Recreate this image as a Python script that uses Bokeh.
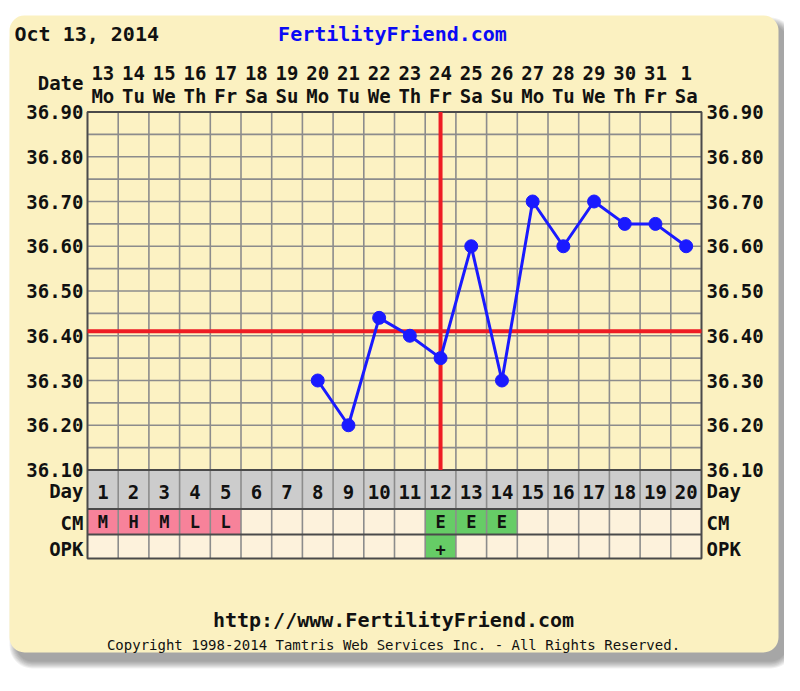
from bokeh.plotting import figure
from bokeh.models import Range1d, BoxAnnotation
from bokeh.core.properties import value
from bokeh.embed import file_html
from bokeh.resources import INLINE

# ---------------- data ----------------
title_date = "Oct 13, 2014"
site = "FertilityFriend.com"
url = "http://www.FertilityFriend.com"
copyright_text = "Copyright 1998-2014 Tamtris Web Services Inc. - All Rights Reserved."

dates = ["13", "14", "15", "16", "17", "18", "19", "20", "21", "22",
         "23", "24", "25", "26", "27", "28", "29", "30", "31", "1"]
weekdays = ["Mo", "Tu", "We", "Th", "Fr", "Sa", "Su", "Mo", "Tu", "We",
            "Th", "Fr", "Sa", "Su", "Mo", "Tu", "We", "Th", "Fr", "Sa"]
cycle_days = ["1", "2", "3", "4", "5", "6", "7", "8", "9", "10",
              "11", "12", "13", "14", "15", "16", "17", "18", "19", "20"]
temp_days = [8, 9, 10, 11, 12, 13, 14, 15, 16, 17, 18, 19, 20]
temps = [36.30, 36.20, 36.44, 36.40, 36.35, 36.60, 36.30, 36.70, 36.60, 36.70, 36.65, 36.65, 36.60]
cm = ["M", "H", "M", "L", "L", "", "", "", "", "", "", "E", "E", "E", "", "", "", "", "", ""]
opk = ["", "", "", "", "", "", "", "", "", "", "", "+", "", "", "", "", "", "", "", ""]
y_ticks = [36.10, 36.20, 36.30, 36.40, 36.50, 36.60, 36.70, 36.80, 36.90]
coverline = 36.41
ovulation_day = 12

# ---------------- layout (image pixels -> data) ----------------
GRID_LEFT_PX = 87.0
COL_PX = 30.7
TOP_PX = 111.5
PX_PER_DEG = 447.5


def X(px):
    return 0.5 + (px - GRID_LEFT_PX) / COL_PX


def Y(py):
    return y_ticks[-1] - (py - TOP_PX) / PX_PER_DEG


n = len(dates)
cols = [i + 1 for i in range(n)]
edges = [i + 0.5 for i in range(n + 1)]

p = figure(width=784, height=675,
           x_range=Range1d(X(0), X(784)), y_range=Range1d(Y(675), Y(0)),
           output_backend="svg", toolbar_location=None,
           x_axis_location=None, y_axis_location=None,
           min_border=0, outline_line_color=None,
           background_fill_color="white", border_fill_color="white")
p.grid.visible = False

# shadow + card
for k in range(8):
    e = k
    p.add_layout(BoxAnnotation(left=X(16 - e), right=X(786 + e), top=Y(24 - e), bottom=Y(661 + e),
                               fill_color="#444444", fill_alpha=0.075, line_color=None,
                               border_radius=int(16 + e), level="underlay"))
p.add_layout(BoxAnnotation(left=X(9), right=X(778), top=Y(15), bottom=Y(652),
                           fill_color="#FBF1C1", fill_alpha=1.0, line_color=None,
                           border_radius=15, level="underlay"))

day_top = y_ticks[0]
day_bot = Y(508.5)
cm_bot = Y(534)
opk_bot = Y(558)

FONT = value("DejaVu Sans Mono")
TXT = "#111111"

# chart background
p.quad(left=edges[0], right=edges[-1], bottom=y_ticks[0], top=y_ticks[-1],
       fill_color="#FCF2C3", line_color=None)

# table rows
p.quad(left=edges[:-1], right=edges[1:], bottom=day_bot, top=day_top,
       fill_color="#CCCCCC", line_color=None)
cm_colors = ["#F7829A" if c in ("M", "H", "L") else ("#66CC66" if c == "E" else "#FDF2DC") for c in cm]
p.quad(left=edges[:-1], right=edges[1:], bottom=cm_bot, top=day_bot,
       fill_color=cm_colors, line_color=None)
opk_colors = ["#66CC66" if o == "+" else "#FDF2DC" for o in opk]
p.quad(left=edges[:-1], right=edges[1:], bottom=opk_bot, top=cm_bot,
       fill_color=opk_colors, line_color=None)

# grid lines
mids = [(a + b) / 2 for a, b in zip(y_ticks, y_ticks[1:])]
hlines = y_ticks + mids
p.segment(x0=edges, y0=opk_bot, x1=edges, y1=y_ticks[-1], line_color="#8C8C8C", line_width=1.6)
p.segment(x0=edges[0], y0=hlines, x1=edges[-1], y1=hlines, line_color="#8C8C8C", line_width=1.6)
p.segment(x0=edges[0], y0=[day_top, day_bot, cm_bot], x1=edges[-1], y1=[day_top, day_bot, cm_bot],
          line_color="#4A4A4A", line_width=1.8)
p.quad(left=edges[0], right=edges[-1], bottom=opk_bot, top=y_ticks[-1],
       fill_color=None, line_color="#4A4A4A", line_width=1.8)

# ovulation & coverline
p.segment(x0=ovulation_day, y0=y_ticks[0], x1=ovulation_day, y1=y_ticks[-1],
          line_color="#EE1C24", line_width=4)
p.segment(x0=edges[0], y0=coverline, x1=edges[-1], y1=coverline,
          line_color="#EE1C24", line_width=4)

# temperatures
p.line(temp_days, temps, line_color="#1A1AFF", line_width=3)
p.scatter(temp_days, temps, size=13, fill_color="#1A1AFF", line_color="#1A1AFF")

# texts
def txt(x, y, t, align="center", size="19px", color=TXT, style="bold"):
    p.text(x=x, y=y, text=t, text_align=align, text_baseline="middle",
           text_font=FONT, text_font_size=size, text_font_style=style, text_color=color)

txt([X(14)], [Y(33)], [title_date], align="left", size="20px")
txt([X(392)], [Y(33)], [site], color="#0A0AF5", size="20px")
txt([X(83)], [Y(82)], ["Date"], align="right")
txt(cols, [Y(72)] * n, dates)
txt(cols, [Y(95)] * n, weekdays)

labels = ["%.2f" % t for t in y_ticks]
txt([X(83)] * len(y_ticks), y_ticks, labels, align="right")
txt([X(706)] * len(y_ticks), y_ticks, labels, align="left")

row_names = ["Day", "CM", "OPK"]
row_y = [Y(490.5), Y(522), Y(548)]
txt([X(83)] * 3, row_y, row_names, align="right")
txt([X(706)] * 3, row_y, row_names, align="left")

txt(cols, [Y(491)] * n, cycle_days)
txt(cols, [Y(521)] * n, cm, size="17px")
txt(cols, [Y(549)] * n, opk, size="17px")

txt([X(393)], [Y(619)], [url], size="20px")
txt([X(393)], [Y(644)], [copyright_text], size="14px", style="normal")

open("out.html", "w").write(file_html(p, INLINE))
